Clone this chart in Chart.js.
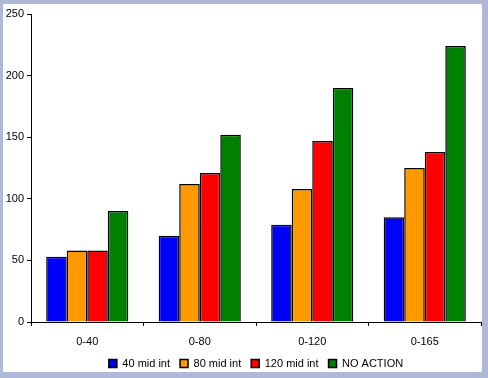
<!DOCTYPE html>
<html>
<head>
<meta charset="utf-8">
<script src="https://cdn.jsdelivr.net/npm/chart.js@4"></script>
<style>
  html, body { margin: 0; padding: 0; background: #b0b8d8; }
  #box { position: absolute; left: 3px; top: 4px; width: 479px; height: 368px; background: #fff; }
</style>
</head>
<body>
<div id="box"><canvas id="chart" width="479" height="368"></canvas></div>
<script>
const categories = ["0-40", "0-80", "0-120", "0-165"];
const seriesNames = ["40 mid int", "80 mid int", "120 mid int", "NO ACTION"];
const mid40 = [53, 70, 79, 85];
const mid80 = [58, 112, 108, 125];
const mid120 = [58, 121, 147, 138];
const noAction = [90, 152, 190, 224];
const yTicks = [0, 50, 100, 150, 200, 250];
const colors = ["#0000ff", "#ff9900", "#ff0000", "#008000"];

const font = { family: "'Liberation Sans', Arial, sans-serif", size: 11 };

// centre the legend under the plot area rather than the whole canvas
const legendUnderPlot = {
  id: "legendUnderPlot",
  afterLayout(chart){
    const lg = chart.legend;
    if (!lg) return;
    const shift = (chart.chartArea.left + chart.chartArea.right) / 2 - (lg.left + lg.right) / 2;
    lg.left += shift;
    lg.right += shift;
  }
};

function makeChart(){
  const ctx = document.getElementById("chart");
  const values = [mid40, mid80, mid120, noAction];

  new Chart(ctx, {
    type: "bar",
    data: {
      labels: categories,
      datasets: values.map((v, i) => ({
        label: seriesNames[i],
        data: v,
        backgroundColor: colors[i],
        borderColor: "#000",
        borderWidth: 1.5,
        borderSkipped: "bottom",
        categoryPercentage: 0.73,
        barPercentage: 1
      }))
    },
    options: {
      responsive: false,
      animation: false,
      layout: { padding: { top: 10, right: 1, left: 0, bottom: 0 } },
      scales: {
        x: {
          afterFit: axis => { axis.height = 26; },
          grid: { display: true, drawOnChartArea: false, color: "#000", tickLength: 4, offset: true },
          border: { color: "#000", width: 1 },
          ticks: { color: "#000", font: font, padding: 9 }
        },
        y: {
          min: 0, max: 250,
          afterBuildTicks: axis => { axis.ticks = yTicks.map(v => ({ value: v })); },
          afterFit: axis => { axis.width = 28; },
          grid: { display: true, drawOnChartArea: false, color: "#000", tickLength: 4 },
          border: { color: "#000", width: 1 },
          ticks: { color: "#000", font: font, padding: 3 }
        }
      },
      plugins: {
        legend: {
          position: "bottom",
          maxHeight: 24,
          labels: { color: "#000", font: font, boxWidth: 8, boxHeight: 8, padding: 10 }
        },
        tooltip: { enabled: false }
      }
    },
    plugins: [legendUnderPlot]
  });
}

document.addEventListener("DOMContentLoaded", makeChart);
</script>
</body>
</html>
